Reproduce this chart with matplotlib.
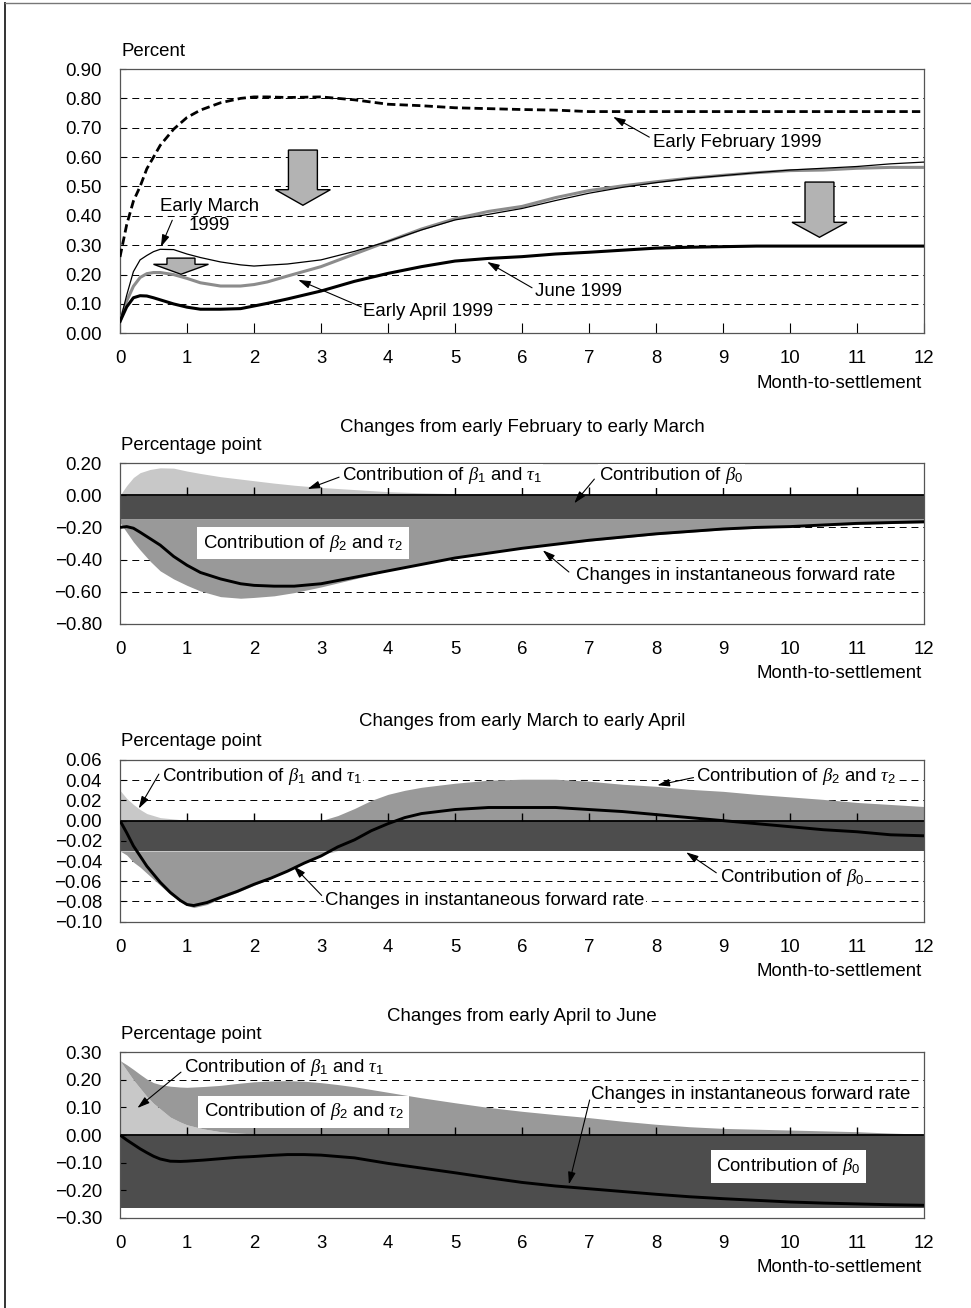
import numpy as np
import matplotlib
matplotlib.use('Agg')
import matplotlib.pyplot as plt
from matplotlib.patches import Polygon
from matplotlib.lines import Line2D
from matplotlib.ticker import FuncFormatter

plt.rcParams['font.family'] = 'Liberation Sans'
plt.rcParams['font.size'] = 13.4
plt.rcParams['mathtext.fontset'] = 'custom'
plt.rcParams['mathtext.rm'] = 'Liberation Sans'
plt.rcParams['mathtext.it'] = 'Liberation Serif:italic'
plt.rcParams['lines.scale_dashes'] = False

#   forward rate curves (percent) by month-to-settlement
months = [0, 0.1, 0.2, 0.3, 0.4, 0.5, 0.6, 0.8, 1.0, 1.2, 1.5, 1.8, 2.0, 2.2, 2.5,
          3.0, 3.5, 4.0, 4.5, 5.0, 5.5, 6.0, 6.5, 7.0, 7.5, 8.0, 8.5, 9.0, 9.5,
          10.0, 10.5, 11.0, 11.5, 12.0]
fwd_feb = [0.26, 0.37, 0.45, 0.50, 0.56, 0.60, 0.64, 0.695, 0.735, 0.76, 0.785, 0.80,
           0.805, 0.805, 0.803, 0.805, 0.795, 0.78, 0.775, 0.768, 0.765, 0.762, 0.76,
           0.755, 0.755, 0.755, 0.755, 0.755, 0.755, 0.755, 0.755, 0.755, 0.755, 0.755]
fwd_mar = [0.04, 0.13, 0.21, 0.25, 0.265, 0.278, 0.286, 0.285, 0.27, 0.258, 0.243, 0.233,
           0.229, 0.232, 0.236, 0.25, 0.279, 0.313, 0.352, 0.386, 0.405, 0.425, 0.452,
           0.477, 0.497, 0.513, 0.527, 0.537, 0.547, 0.556, 0.562, 0.568, 0.577, 0.583]
fwd_apr = [0.04, 0.11, 0.16, 0.19, 0.203, 0.207, 0.207, 0.20, 0.187, 0.172, 0.161, 0.161,
           0.166, 0.175, 0.195, 0.227, 0.27, 0.313, 0.355, 0.39, 0.415, 0.432, 0.462,
           0.486, 0.502, 0.516, 0.528, 0.538, 0.547, 0.554, 0.556, 0.562, 0.565, 0.565]
fwd_jun = [0.04, 0.09, 0.121, 0.128, 0.127, 0.121, 0.114, 0.10, 0.089, 0.082, 0.082, 0.084,
           0.093, 0.102, 0.117, 0.144, 0.177, 0.204, 0.227, 0.246, 0.255, 0.261, 0.27,
           0.276, 0.283, 0.29, 0.293, 0.295, 0.297, 0.297, 0.297, 0.297, 0.297, 0.297]

#   decomposition: early February -> early March
m_fm = [0, 0.1, 0.2, 0.3, 0.45, 0.6, 0.8, 1.0, 1.2, 1.5, 1.8, 2.0, 2.3, 2.6, 3.0, 3.5,
        4.0, 4.5, 5, 5.5, 6, 6.5, 7, 7.5, 8, 8.5, 9, 9.5, 10, 10.5, 11, 11.5, 12]
b0_fm = -0.145
b1_fm = [0.0, 0.06, 0.11, 0.14, 0.16, 0.17, 0.168, 0.15, 0.135, 0.115, 0.10, 0.09, 0.075,
         0.062, 0.048, 0.035, 0.022, 0.015, 0.01, 0.007, 0.005, 0.003, 0.002, 0.001,
         0.001, 0, 0, 0, 0, 0, 0, 0, 0]
b2_fm = [-0.025, -0.085, -0.145, -0.195, -0.265, -0.325, -0.375, -0.415, -0.45, -0.485,
         -0.495, -0.49, -0.48, -0.46, -0.425, -0.375, -0.325, -0.285, -0.245, -0.215,
         -0.185, -0.16, -0.14, -0.12, -0.10, -0.085, -0.07, -0.06, -0.05, -0.045,
         -0.037, -0.031, -0.027]
chg_fm = [-0.2, -0.195, -0.205, -0.23, -0.27, -0.31, -0.38, -0.435, -0.48, -0.52, -0.55,
          -0.56, -0.565, -0.565, -0.55, -0.51, -0.47, -0.43, -0.39, -0.36, -0.33, -0.305,
          -0.28, -0.26, -0.24, -0.225, -0.21, -0.2, -0.195, -0.185, -0.175, -0.17, -0.165]

#   decomposition: early March -> early April
m_ma = [0, 0.1, 0.2, 0.3, 0.4, 0.5, 0.6, 0.75, 0.9, 1.0, 1.1, 1.3, 1.5, 1.75, 2.0, 2.25,
        2.5, 2.75, 3.0, 3.25, 3.5, 3.75, 4.0, 4.25, 4.5, 4.75, 5.0, 5.5, 6.0, 6.5, 7.0,
        7.5, 8.0, 8.5, 9.0, 9.5, 10, 10.5, 11, 11.5, 12]
b0_ma = -0.03
b1_ma = [0.03, 0.022, 0.016, 0.011, 0.007, 0.005, 0.003, 0.002, 0.001, 0.0005, 0.0003,
         0.0001] + [0] * 29
b2_ma = [0, -0.004, -0.011, -0.016, -0.022, -0.028, -0.034, -0.043, -0.05, -0.054, -0.056,
         -0.053, -0.047, -0.041, -0.034, -0.027, -0.02, -0.012, -0.003, 0.005, 0.012,
         0.02, 0.026, 0.03, 0.033, 0.035, 0.037, 0.040, 0.041, 0.041, 0.039, 0.036,
         0.034, 0.031, 0.029, 0.026, 0.0235, 0.021, 0.018, 0.016, 0.014]
chg_ma = [0, -0.012, -0.025, -0.035, -0.045, -0.053, -0.061, -0.071, -0.079, -0.083,
          -0.084, -0.081, -0.076, -0.07, -0.063, -0.057, -0.05, -0.042, -0.035, -0.026,
          -0.019, -0.01, -0.003, 0.003, 0.007, 0.009, 0.011, 0.013, 0.013, 0.013, 0.011,
          0.009, 0.006, 0.003, 0.0, -0.003, -0.006, -0.009, -0.011, -0.014, -0.015]

#   decomposition: early April -> June
m_aj = [0, 0.1, 0.2, 0.3, 0.4, 0.5, 0.6, 0.75, 0.9, 1.0, 1.25, 1.5, 1.75, 2.0, 2.25, 2.5,
        2.75, 3.0, 3.25, 3.5, 4, 4.5, 5, 5.5, 6, 6.5, 7, 7.5, 8, 8.5, 9, 9.5, 10, 10.5,
        11, 11.5, 12]
b0_aj = -0.265
b1_aj = [0.27, 0.235, 0.2, 0.17, 0.14, 0.115, 0.095, 0.065, 0.047, 0.037, 0.022, 0.012,
         0.007, 0.004, 0.002, 0.001] + [0] * 21
b2_aj = [0.0, 0.02, 0.038, 0.05, 0.063, 0.075, 0.088, 0.112, 0.127, 0.136, 0.154, 0.168,
         0.18, 0.189, 0.194, 0.196, 0.195, 0.19, 0.183, 0.175, 0.155, 0.135, 0.117, 0.1,
         0.086, 0.074, 0.063, 0.05, 0.039, 0.03, 0.024, 0.021, 0.018, 0.015, 0.012,
         0.007, 0.003]
chg_aj = [0, -0.018, -0.034, -0.05, -0.064, -0.077, -0.087, -0.095, -0.096, -0.095,
          -0.091, -0.086, -0.081, -0.078, -0.074, -0.071, -0.071, -0.073, -0.078, -0.083,
          -0.103, -0.12, -0.137, -0.155, -0.172, -0.185, -0.195, -0.205, -0.215, -0.224,
          -0.231, -0.237, -0.243, -0.247, -0.25, -0.253, -0.255]

xticks = list(range(13))
LIGHT = '#c8c8c8'
MID = '#999999'
DARK = '#4d4d4d'
SPINE = '#555555'
W, H = 971, 1308


def fmt(v, pos):
    s = '%.2f' % v
    if s == '-0.00':
        s = '0.00'
    return s.replace('-', '\u2212')


def base_axes(rect, ylim, yticks, grid_vals, ylabel):
    ax = fig.add_axes(rect)
    ax.set_xlim(0, 12)
    ax.set_ylim(*ylim)
    ax.set_xticks(xticks)
    ax.set_yticks(yticks)
    ax.yaxis.set_major_formatter(FuncFormatter(fmt))
    ax.tick_params(axis='y', direction='in', length=4, pad=13, color='k')
    for s in ax.spines.values():
        s.set_color(SPINE)
        s.set_linewidth(0.9)
    for g in grid_vals:
        ax.axhline(g, color='k', lw=0.7, dashes=(5, 3.5), zorder=0.5)
    ax.annotate(ylabel, xy=(0, 1), xycoords='axes fraction', xytext=(1, 18),
                textcoords='offset pixels', ha='left', va='center')
    ax.annotate('Month-to-settlement', xy=(1, 0), xycoords='axes fraction',
                xytext=(-2, -50), textcoords='offset pixels', ha='right', va='center')
    return ax


def pointer(ax, tip, tail):
    ax.annotate('', xy=tip, xytext=tail,
                arrowprops=dict(arrowstyle='-|>,head_length=0.55,head_width=0.17',
                                lw=0.8, color='k', shrinkA=0, shrinkB=0), zorder=6)


def label(ax, x, y, s, box=False, **kw):
    if box:
        bb = dict(boxstyle='square,pad=0.3', fc='white', ec='none')
    else:
        bb = dict(boxstyle='square,pad=0.08', fc='white', ec='none')
    ax.text(x, y, s, ha='left', va='center', bbox=bb, zorder=5, **kw)


def block_arrow(ax, xc, ytop, yneck, ytip, shaft_hw, head_hw):
    pts = [(xc - shaft_hw, ytop), (xc + shaft_hw, ytop), (xc + shaft_hw, yneck),
           (xc + head_hw, yneck), (xc, ytip), (xc - head_hw, yneck),
           (xc - shaft_hw, yneck)]
    ax.add_patch(Polygon(pts, closed=True, fc='#b3b3b3', ec='k', lw=1.0, zorder=4))


def decomposition(ax, m, b0, b1, b2, chg):
    m = np.array(m)
    b1 = np.array(b1, dtype=float)
    b2 = np.array(b2, dtype=float)
    base = np.full_like(m, b0, dtype=float)
    ax.fill_between(m, 0, base, color=DARK, lw=0, zorder=1)
    ax.fill_between(m, 0, b1, color=LIGHT, lw=0, zorder=1)
    ax.fill_between(m, b1, b1 + np.clip(b2, 0, None), color=MID, lw=0, zorder=1)
    ax.fill_between(m, base, base + np.clip(b2, None, 0), color=MID, lw=0, zorder=1)
    ax.axhline(0, color='k', lw=1.3, zorder=2)
    ax.plot(xticks[1:-1], np.zeros(len(xticks) - 2), ls='none', marker=2, ms=6,
            mew=1.0, color='k', zorder=2)
    ax.plot(m, chg, color='k', lw=2.1, zorder=3, solid_capstyle='butt')
    ax.tick_params(axis='x', length=0, pad=12.5)


fig = plt.figure(figsize=(W / 100, H / 100), dpi=100)


def rect(left, top, right, bottom):
    return [left / W, 1 - bottom / H, (right - left) / W, (bottom - top) / H]


#   top panel: forward rate curves
ax0 = base_axes(rect(120, 69, 924, 333.3), (0, 0.9), np.arange(0, 0.91, 0.1),
                np.arange(0.1, 0.85, 0.1), 'Percent')
ax0.tick_params(axis='x', direction='in', length=7, pad=12, color='k')
ax0.plot(months, fwd_feb, color='k', lw=2.0, dashes=(6, 3), zorder=3)
ax0.plot(months, fwd_apr, color='#8c8c8c', lw=2.2, zorder=3)
ax0.plot(months, fwd_mar, color='k', lw=0.9, zorder=3.5)
ax0.plot(months, fwd_jun, color='k', lw=2.2, zorder=3.5)

block_arrow(ax0, 2.73, 0.624, 0.489, 0.436, 0.216, 0.41)
block_arrow(ax0, 0.91, 0.256, 0.235, 0.201, 0.209, 0.41)
block_arrow(ax0, 10.44, 0.515, 0.378, 0.327, 0.216, 0.41)

label(ax0, 7.96, 0.649, 'Early February 1999')
pointer(ax0, (7.36, 0.737), (7.9, 0.668))
ax0.text(1.34, 0.40, 'Early March\n1999', ha='center', va='center', linespacing=1.15,
         zorder=5)
pointer(ax0, (0.61, 0.294), (0.78, 0.385))
label(ax0, 3.63, 0.074, 'Early April 1999')
pointer(ax0, (2.66, 0.182), (3.6, 0.09))
label(ax0, 6.19, 0.142, 'June 1999')
pointer(ax0, (5.48, 0.243), (6.15, 0.155))

#   early February -> early March
ax1 = base_axes(rect(120, 463, 924, 624), (-0.8, 0.2), np.arange(-0.8, 0.21, 0.2),
                [-0.2, -0.4, -0.6], 'Percentage point')
decomposition(ax1, m_fm, b0_fm, b1_fm, b2_fm, chg_fm)
ax1.annotate('Changes from early February to early March', xy=(0.5, 1),
             xycoords='axes fraction', xytext=(0, 35), textcoords='offset pixels',
             ha='center', va='center')
label(ax1, 3.31, 0.12, r'Contribution of $\beta_{1}$ and $\tau_{1}$')
pointer(ax1, (2.8, 0.039), (3.27, 0.112))
label(ax1, 7.15, 0.12, r'Contribution of $\beta_{0}$')
pointer(ax1, (6.78, -0.05), (7.08, 0.1))
label(ax1, 1.24, -0.298, r'Contribution of $\beta_{2}$ and $\tau_{2}$', box=True)
label(ax1, 6.8, -0.498, 'Changes in instantaneous forward rate')
pointer(ax1, (6.31, -0.342), (6.7, -0.477))

#   early March -> early April
ax2 = base_axes(rect(120, 760, 924, 921.7), (-0.1, 0.06), np.arange(-0.1, 0.061, 0.02),
                [0.04, 0.02, -0.02, -0.04, -0.06, -0.08], 'Percentage point')
decomposition(ax2, m_ma, b0_ma, b1_ma, b2_ma, chg_ma)
ax2.annotate('Changes from early March to early April', xy=(0.5, 1),
             xycoords='axes fraction', xytext=(0, 38), textcoords='offset pixels',
             ha='center', va='center')
label(ax2, 0.62, 0.0436, r'Contribution of $\beta_{1}$ and $\tau_{1}$')
pointer(ax2, (0.28, 0.012), (0.58, 0.046))
label(ax2, 8.6, 0.0436, r'Contribution of $\beta_{2}$ and $\tau_{2}$')
pointer(ax2, (8.02, 0.035), (8.56, 0.0426))
label(ax2, 8.95, -0.0558, r'Contribution of $\beta_{0}$')
pointer(ax2, (8.45, -0.0313), (8.9, -0.0516))
label(ax2, 3.06, -0.079, 'Changes in instantaneous forward rate')
pointer(ax2, (2.59, -0.045), (3.01, -0.074))

#   early April -> June
ax3 = base_axes(rect(120, 1052.3, 924, 1217.7), (-0.3, 0.3), np.arange(-0.3, 0.31, 0.1),
                [0.2, 0.1, -0.1, -0.2], 'Percentage point')
decomposition(ax3, m_aj, b0_aj, b1_aj, b2_aj, chg_aj)
ax3.annotate('Changes from early April to June', xy=(0.5, 1),
             xycoords='axes fraction', xytext=(0, 36), textcoords='offset pixels',
             ha='center', va='center')
ax3.text(0.95, 0.245, r'Contribution of $\beta_{1}$ and $\tau_{1}$', ha='left',
         va='center', zorder=5)
pointer(ax3, (0.26, 0.098), (0.91, 0.228))
label(ax3, 1.25, 0.084, r'Contribution of $\beta_{2}$ and $\tau_{2}$', box=True)
label(ax3, 7.03, 0.148, 'Changes in instantaneous forward rate')
pointer(ax3, (6.7, -0.179), (7.01, 0.127))
label(ax3, 8.9, -0.114, r'Contribution of $\beta_{0}$', box=True)

#   page frame (left and top edges)
fig.add_artist(Line2D([4.5 / W, 4.5 / W], [0, 1 - 2.5 / H], transform=fig.transFigure,
                      color='#333333', lw=1.4))
fig.add_artist(Line2D([4.5 / W, 1], [1 - 2.5 / H, 1 - 2.5 / H], transform=fig.transFigure,
                      color='#777777', lw=1.0))

fig.savefig('out.png', dpi=100)
